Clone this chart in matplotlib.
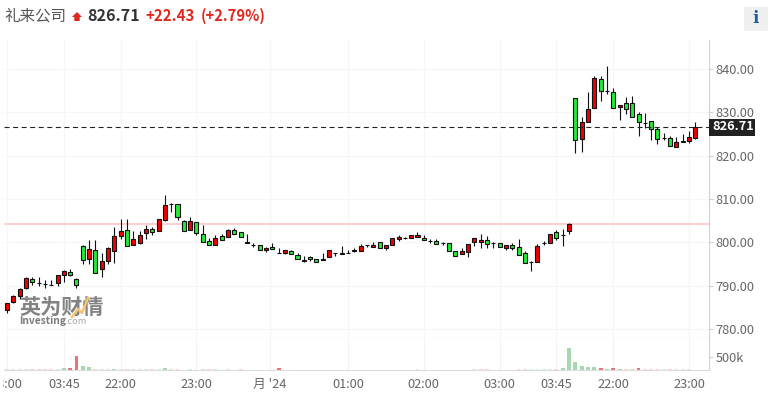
import numpy as np
import matplotlib
matplotlib.use('Agg')
import matplotlib.pyplot as plt
from matplotlib.lines import Line2D
from matplotlib.patches import Polygon, Rectangle
from matplotlib.transforms import Bbox

plt.rcParams['font.family'] = ['Noto Sans CJK SC', 'DejaVu Sans']

# candles
opens = [784.4, 786.1, 787.5, 789.4, 791.4, 790.5, 790.4, 790.05, 790.5, 792.4,
         793.1, 791.4, 799.1, 796.1, 798.1, 793.7, 795.6, 797.9, 801.4, 802.75,
         799.3, 799.75, 802.06, 803.0, 802.5, 805.06, 808.75, 808.75, 804.8, 802.75,
         804.6, 801.8, 800.2, 799.3, 801.4, 801.15, 802.75, 802.3, 799.75, 799.45,
         799.3, 798.1, 798.8, 797.5, 797.4, 797.9, 797.0, 795.6, 796.5, 796.06,
         795.8, 796.5, 797.45, 797.2, 797.45, 797.9, 797.9, 799.3, 798.8, 800.0,
         798.6, 799.3, 800.66, 800.9, 800.9, 801.1, 800.9, 800.3, 800.2, 799.75,
         799.75, 797.9, 797.2, 797.66, 800.0, 800.0, 800.4, 799.75, 799.75, 798.6,
         799.3, 798.8, 797.4, 795.4, 795.36, 799.75, 799.75, 802.3, 801.6, 802.5,
         833.2, 823.8, 827.7, 830.95, 837.6, 834.85, 834.6, 831.15, 832.08, 832.08,
         829.5, 827.5, 827.9, 826.1, 824.0, 824.0, 821.9, 823.1, 823.3, 824.0]
highs = [785.9, 787.7, 789.4, 791.9, 791.9, 791.9, 791.3, 791.3, 792.4, 793.6,
         793.8, 791.8, 799.4, 800.5, 800.5, 797.4, 799.0, 803.6, 805.4, 805.4,
         802.5, 802.5, 804.0, 803.4, 805.3, 810.9, 809.0, 808.75, 805.1, 805.75,
         804.6, 804.0, 800.9, 801.6, 801.8, 803.0, 803.2, 802.3, 801.8, 799.8,
         799.3, 798.8, 799.75, 798.6, 798.1, 798.1, 797.4, 796.75, 796.75, 796.06,
         797.4, 798.1, 797.45, 799.1, 798.1, 798.6, 799.5, 799.3, 800.0, 800.0,
         799.3, 800.9, 801.6, 801.1, 801.6, 802.3, 801.6, 800.66, 800.66, 800.05,
         799.75, 797.9, 798.6, 799.5, 800.9, 801.9, 801.4, 800.0, 799.75, 799.3,
         799.75, 800.66, 797.9, 795.6, 799.5, 800.2, 801.8, 802.75, 803.0, 804.35,
         833.2, 829.0, 834.6, 838.3, 838.3, 840.7, 835.5, 831.6, 833.5, 833.7,
         830.0, 829.8, 827.9, 826.6, 825.2, 824.5, 824.2, 824.9, 825.6, 827.7]
lows = [783.7, 786.0, 786.8, 789.1, 790.2, 789.9, 789.5, 790.05, 789.8, 790.7,
        792.2, 789.4, 795.0, 795.0, 792.8, 792.06, 795.0, 795.3, 800.8, 799.1,
        799.3, 799.5, 800.8, 801.75, 802.5, 804.8, 807.0, 805.1, 802.5, 802.75,
        801.75, 800.1, 799.3, 799.3, 800.4, 801.15, 801.8, 801.15, 799.75, 799.0,
        798.1, 797.8, 798.4, 797.4, 797.2, 797.2, 796.06, 795.4, 795.6, 795.4,
        795.8, 796.5, 796.9, 797.2, 797.4, 797.7, 797.9, 798.8, 798.8, 798.6,
        798.2, 799.3, 800.2, 800.7, 800.9, 801.1, 800.4, 799.9, 799.5, 799.36,
        797.9, 796.75, 797.2, 796.66, 799.2, 798.6, 798.6, 798.6, 798.8, 798.1,
        798.3, 797.0, 795.1, 793.4, 795.36, 799.36, 799.75, 800.4, 799.2, 801.8,
        820.5, 820.75, 827.7, 830.95, 832.5, 834.15, 830.95, 828.15, 829.5, 828.85,
        824.5, 826.3, 823.5, 822.6, 823.6, 822.2, 821.9, 823.1, 822.85, 823.8]
closes = [785.9, 787.5, 789.1, 791.7, 790.7, 790.5, 790.4, 790.05, 792.4, 793.3,
          792.4, 790.05, 795.8, 798.4, 792.8, 795.6, 798.6, 801.4, 802.5, 799.1,
          800.7, 801.6, 803.0, 802.3, 805.3, 808.5, 808.75, 805.75, 802.5, 804.8,
          802.06, 800.1, 799.3, 800.9, 800.6, 802.75, 801.8, 801.15, 800.0, 799.45,
          798.1, 798.6, 798.4, 797.5, 798.1, 797.2, 796.06, 795.8, 796.06, 795.4,
          796.06, 798.1, 797.45, 797.45, 797.45, 798.1, 799.1, 799.3, 799.3, 798.6,
          799.3, 800.9, 801.1, 800.9, 801.6, 801.6, 800.4, 800.3, 799.5, 799.75,
          797.9, 796.75, 797.9, 799.5, 800.9, 800.4, 799.5, 799.75, 798.8, 799.3,
          798.6, 797.0, 795.1, 795.4, 799.05, 799.9, 801.8, 800.9, 801.6, 804.1,
          823.5, 827.7, 830.7, 837.85, 834.85, 834.85, 830.95, 831.6, 830.7, 828.85,
          827.7, 827.5, 826.1, 823.8, 824.0, 822.2, 823.1, 823.3, 824.2, 826.71]

# volume in thousands, 0 = no bar
volumes = [30, 30, 30, 30, 30, 30, 30, 30, 30, 75, 60, 525, 150, 100, 30, 30, 30, 50, 30, 30,
           30, 30, 30, 30, 30, 60, 30, 30, 0, 30, 0, 30, 30, 30, 0, 30, 0, 30, 0, 0,
           0, 0, 0, 60, 0, 0, 0, 0, 0, 0, 0, 0, 0, 0, 0, 0, 0, 0, 0, 0,
           0, 0, 0, 0, 0, 30, 0, 0, 0, 0, 0, 0, 0, 0, 30, 30, 30, 0, 0, 0,
           0, 30, 30, 30, 30, 30, 30, 30, 60, 810, 290, 140, 100, 100, 60, 50, 60, 50, 30, 30,
           60, 30, 30, 30, 30, 30, 30, 30, 30, 0]
# bars drawn red, the others are green
red_bars = [4, 5, 6, 7, 10, 11, 14, 19, 23, 26, 27, 31, 32, 37, 43, 75, 76, 81, 82, 87,
            94, 96, 98, 99, 100, 101, 102, 103, 105]

price_ticks = [780, 790, 800, 810, 820, 830, 840]
time_pos = [0, 9, 18, 30, 41.6, 54, 66, 78, 87, 96, 108]
time_labels = ['18:00', '03:45', '22:00', '23:00', "月 '24", '01:00', '02:00', '03:00', '03:45', '22:00', '23:00']
prev_close = 804.28
last_price = 826.71

W, H = 771, 403
RED = '#f00000'
GREEN = '#24ea36'
TXT = '#666666'
LINE = '#d0d0d6'


def px(x, y):
    return x / W, 1 - y / H


fig = plt.figure(figsize=(W / 100, H / 100), dpi=100)
ax = fig.add_axes([4 / W, 1 - 338 / H, 705 / W, 298 / H])
vax = fig.add_axes([4 / W, 1 - 370 / H, 705 / W, 32 / H], sharex=ax)

x = np.arange(len(closes))
opens, highs, lows, closes = map(np.array, (opens, highs, lows, closes))

ax.axhline(prev_close, color='#ffcfcf', lw=1.4, zorder=1)
ax.vlines(x, lows, highs, color='#111111', lw=0.8, zorder=2)
cols = [RED if c >= o else GREEN for o, c in zip(opens, closes)]
ax.bar(x, closes - opens, bottom=opens, width=0.64, color=cols, edgecolor='#111111', linewidth=0.8, zorder=3)
ax.axhline(last_price, color='#222222', lw=0.8, dashes=(4.5, 3.2), zorder=4)

ax.set_xlim(-0.475, 111.16)
ax.set_ylim(777.88, 846.7)
ax.set_yticks(price_ticks)
ax.set_yticklabels(['%.2f' % p for p in price_ticks])
ax.yaxis.tick_right()
ax.tick_params(axis='y', length=3, color=LINE, labelcolor=TXT, labelsize=9.2, pad=1.5)
ax.tick_params(axis='x', length=0, labelbottom=False)
ax.set_xticks(time_pos)
ax.grid(True, color='#f6f6f6', lw=0.8, zorder=0)
ax.set_axisbelow(True)
for s in ['top', 'left']:
    ax.spines[s].set_visible(False)
ax.spines['right'].set_color(LINE)
ax.spines['bottom'].set_color('#c4c4c4')

vcols = []
for i, v in enumerate(volumes):
    if i in red_bars:
        vcols.append('#e87676' if v >= 45 else '#fbd2d2')
    else:
        vcols.append('#a8d8b2' if v >= 45 else '#d6efde')
vax.bar(x, volumes, width=0.62, color=vcols, zorder=2)
vax.set_ylim(0, 1200)
vax.set_yticks([500])
vax.set_yticklabels(['500k'])
vax.yaxis.tick_right()
vax.tick_params(axis='y', length=3, color=LINE, labelcolor=TXT, labelsize=9.2, pad=1.5)
vax.set_xticks(time_pos)
vax.set_xticklabels(time_labels)
vax.tick_params(axis='x', length=0, labelcolor=TXT, labelsize=9.2, pad=5.5)
vax.grid(True, axis='x', color='#f3f3f3', lw=0.8, zorder=0)
vax.set_axisbelow(True)
for s in ['top', 'left']:
    vax.spines[s].set_visible(False)
vax.spines['right'].set_color(LINE)
vax.spines['bottom'].set_color('#dcdce0')
# first label is cut at the left in the original
lab0 = vax.get_xticklabels()[0]
lab0.set_clip_box(Bbox([[3, 0], [60, 60]]))
lab0.set_clip_on(True)

# header
fig.text(*px(4.5, 16), '礼来公司', fontsize=11.2, color='#555555', va='center')
fig.add_artist(Polygon([px(77, 12), px(82, 17), px(79.7, 17), px(79.7, 21), px(74.3, 21), px(74.3, 17), px(72, 17)],
                       closed=True, color='#e0281e', transform=fig.transFigure, lw=0))
fig.text(*px(87, 16), '826.71', fontsize=11.6, fontweight='bold', color='#333333', va='center')
fig.text(*px(145, 16), '+22.43', fontsize=10.8, fontweight='bold', color='#e0281e', va='center')
fig.text(*px(201, 16), '(+2.79%)', fontsize=10.6, fontweight='bold', color='#e0281e', va='center')

# info button
fig.add_artist(Rectangle(px(744, 31), 24 / W, 24 / H, color='#f0f0f0', transform=fig.transFigure, lw=0))
fig.text(*px(756, 18.5), 'i', fontsize=12, fontweight='bold', family='DejaVu Serif', color='#1a5fa8', ha='center', va='center')

# last price box
fig.add_artist(Rectangle(px(709, 136), 46 / W, 17.5 / H, color='#222222', transform=fig.transFigure, lw=0, zorder=5))
fig.text(*px(733.5, 127), '826.71', fontsize=9.2, fontweight='bold', color='white', ha='center', va='center', zorder=6)

# watermark
fig.text(*px(19.5, 307), '英为财情', fontsize=15.2, fontweight='bold', color='#7c7c7c', va='center', alpha=0.95, zorder=7)
fig.add_artist(Line2D([72 / W, 78 / W, 82 / W, 88 / W], [1 - 317 / H, 1 - 309 / H, 1 - 313 / H, 1 - 298 / H],
                      color='#f5c572', lw=1.8, transform=fig.transFigure, zorder=8))
fig.text(*px(19.5, 321), 'Investing', fontsize=7.4, fontweight='bold', color='#7c7c7c', va='center', zorder=7)
fig.text(*px(65, 322), '.com', fontsize=6.6, color='#a8a8a8', va='center', zorder=7)

fig.savefig('out.png', dpi=100)
